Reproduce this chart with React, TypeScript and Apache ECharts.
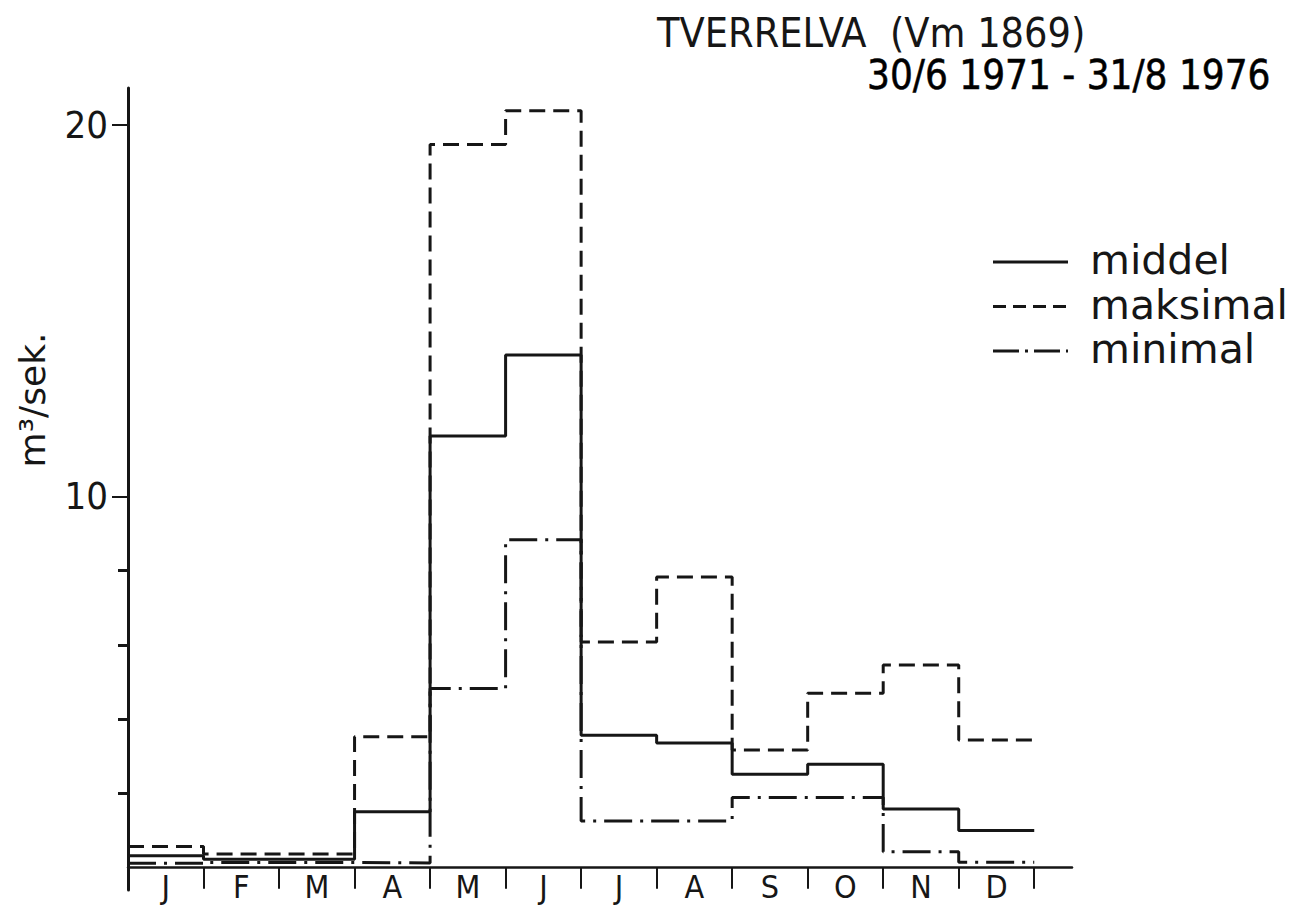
import React, { useEffect, useRef } from "react";
import * as echarts from "echarts";

const months = ["J", "F", "M", "A", "M", "J", "J", "A", "S", "O", "N", "D"];
const middel = [0.32, 0.23, 0.23, 1.51, 11.63, 13.81, 3.57, 3.36, 2.52, 2.79, 1.58, 1.0];
const maksimal = [0.57, 0.37, 0.37, 3.53, 19.48, 20.39, 6.08, 7.83, 3.17, 4.7, 5.46, 3.44];
const minimal = [0.12, 0.14, 0.14, 0.13, 4.83, 8.83, 1.26, 1.26, 1.89, 1.89, 0.43, 0.15];
const yMajorTicks = [10, 20];
const yMinorTicks = [2, 4, 6, 8];
const seriesNames = ["middel", "maksimal", "minimal"];

const stepData = (vals: number[]) => {
  const pts = vals.map((v, i) => [i, v]);
  pts.push([vals.length, vals[vals.length - 1]]);
  return pts;
};

const INK = "#161616";
const NUM_FONT = "'Liberation Sans Narrow', 'DejaVu Sans Condensed', Roboto, sans-serif";
const TEXT_FONT = "'DejaVu Sans', sans-serif";
const DASH_MAX = [16, 8];
const DASH_MIN = [28, 8, 3, 8];

export default function App() {
  const ref = useRef<HTMLDivElement>(null);
  useEffect(() => {
    if (!ref.current) return;
    const chart = echarts.init(ref.current, undefined, { renderer: "svg" });
    const boundaries = months.map((_, i) => i).concat([months.length]);
    const labelPos = months.map((_, i) => i + 0.5);
    const legendDash = [null, [13, 7], [26, 6, 3, 6]];
    const legendGraphics: any[] = [];
    seriesNames.forEach((name, i) => {
      const y = 262 + i * 44.5;
      legendGraphics.push({
        type: "line",
        shape: { x1: 993, y1: y, x2: 1068, y2: y },
        style: {
          stroke: INK,
          lineWidth: 3,
          lineDash: legendDash[i] || undefined,
        },
      });
      legendGraphics.push({
        type: "text",
        x: 1090,
        y: y - 2,
        style: {
          text: name,
          fontFamily: TEXT_FONT,
          fontSize: 41,
          fill: INK,
          textVerticalAlign: "middle",
          lineHeight: 40,
        },
      });
    });
    chart.setOption({
      animation: false,
      backgroundColor: "#ffffff",
      title: [
        {
          text: "TVERRELVA  (Vm 1869)",
          left: 652,
          top: 10,
          textStyle: {
            fontFamily: NUM_FONT,
            fontSize: 41,
            lineHeight: 36,
            fontWeight: "normal",
            color: INK,
          },
        },
        {
          text: "30/6 1971 - 31/8 1976",
          right: 33,
          top: 52,
          textStyle: {
            fontFamily: NUM_FONT,
            fontSize: 40,
            lineHeight: 36,
            fontWeight: "normal",
            color: "#000",
            textBorderColor: "#000",
            textBorderWidth: 0.5,
          },
        },
      ],
      graphic: [
        {
          type: "text",
          x: 32,
          y: 400,
          rotation: Math.PI / 2,
          style: {
            text: "m³/sek.",
            fontFamily: TEXT_FONT,
            fontSize: 36,
            fill: INK,
            textAlign: "center",
            textVerticalAlign: "middle",
          },
        },
        ...legendGraphics,
      ],
      grid: {
        left: 128,
        top: 88,
        width: 944,
        height: 802,
        containLabel: false,
        outerBoundsMode: "none",
      },
      xAxis: {
        type: "value",
        min: 0,
        max: 12.5,
        splitLine: { show: false },
        axisLine: { onZero: true, lineStyle: { color: INK, width: 2.5 } },
        axisTick: {
          show: true,
          customValues: boundaries,
          length: 21,
          lineStyle: { color: INK, width: 2 },
        },
        axisLabel: {
          customValues: labelPos,
          formatter: (v: number) => months[Math.floor(v)] ?? "",
          fontFamily: NUM_FONT,
          fontSize: 32,
          lineHeight: 30,
          color: INK,
          margin: -18,
        },
      },
      yAxis: [
        {
          type: "value",
          min: -0.6,
          max: 21,
          position: "left",
          splitLine: { show: false },
          axisLine: { onZero: false, lineStyle: { color: INK, width: 3 } },
          axisTick: {
            show: true,
            customValues: yMajorTicks,
            length: 16,
            lineStyle: { color: INK, width: 2 },
          },
          axisLabel: {
            customValues: yMajorTicks,
            fontFamily: NUM_FONT,
            fontSize: 38,
            color: INK,
            margin: 20,
          },
        },
        {
          type: "value",
          min: -0.6,
          max: 21,
          position: "left",
          splitLine: { show: false },
          axisLine: { show: false },
          axisTick: {
            show: true,
            customValues: yMinorTicks,
            length: 10,
            lineStyle: { color: INK, width: 3 },
          },
          axisLabel: { show: false },
        },
      ],
      series: [
        {
          name: seriesNames[0],
          type: "line",
          step: "end",
          symbol: "none",
          data: stepData(middel),
          lineStyle: { color: INK, width: 3, type: "solid" },
          itemStyle: { color: INK },
        },
        {
          name: seriesNames[1],
          type: "line",
          step: "end",
          symbol: "none",
          data: stepData(maksimal),
          lineStyle: { color: INK, width: 3, type: DASH_MAX },
          itemStyle: { color: INK },
        },
        {
          name: seriesNames[2],
          type: "line",
          step: "end",
          symbol: "none",
          data: stepData(minimal),
          lineStyle: { color: INK, width: 3, type: DASH_MIN },
          itemStyle: { color: INK },
        },
      ],
    });
    return () => chart.dispose();
  }, []);
  return (
    <div
      ref={ref}
      style={{ position: "fixed", left: 0, top: 0, width: 1309, height: 906, background: "#fff" }}
    />
  );
}
